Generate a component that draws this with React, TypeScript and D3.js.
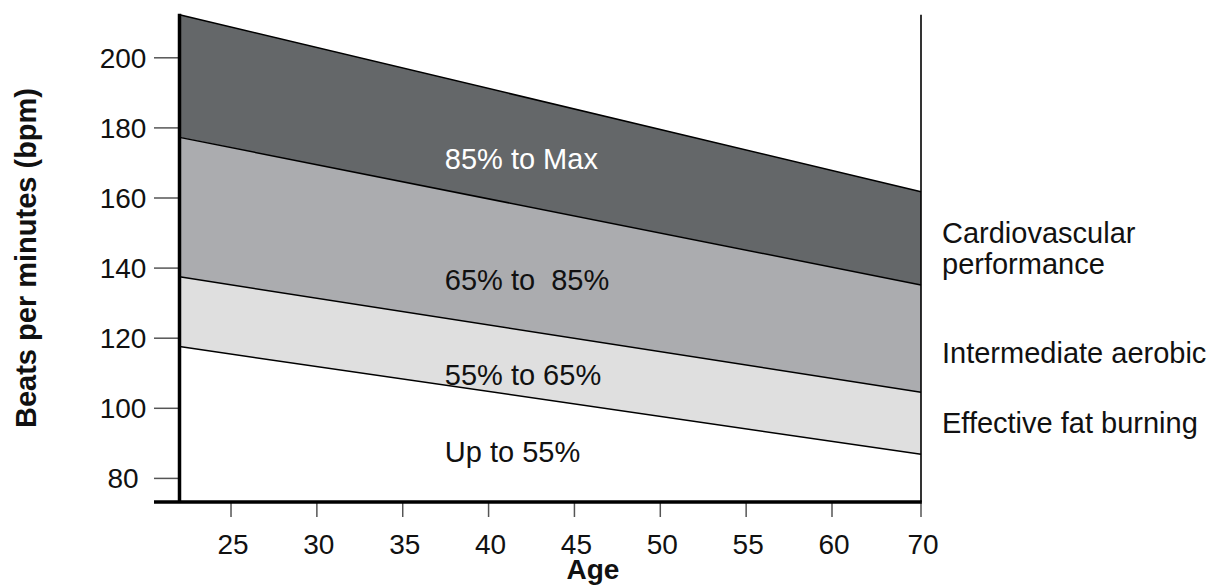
import React from "react";
import * as d3 from "d3";

// ---- data ----
const ageEnds = [22, 70];
const maxHR = [212.3, 161.8];
const hr85 = [177.3, 135.2];
const hr65 = [137.5, 104.6];
const hr55 = [117.6, 86.9];
const yTicks = [80, 100, 120, 140, 160, 180, 200];
const xTicks = [25, 30, 35, 40, 45, 50, 55, 60, 70];
const zoneLabels = ["85% to Max", "65% to  85%", "55% to 65%", "Up to 55%"];
const zoneNames = [["Cardiovascular", "performance"], ["Intermediate aerobic"], ["Effective fat burning"]];
const yTitle = "Beats per minutes (bpm)";
const xTitle = "Age";

const W = 1211;
const H = 587;
const FONT = "'Liberation Sans', Arial, Helvetica, sans-serif";

export default function App() {
  // the printed axis is not uniform: 25..60 evenly spaced, 70 at the right border
  const x = d3.scaleLinear().domain([22, 60, 70]).range([179.5, 832, 921]);
  const y = d3.scaleLinear().domain([80, 200]).range([478.4, 57.8]);
  const yBottom = 73.3;

  const rows = ageEnds.map((a, i) => ({ a, max: maxHR[i], p85: hr85[i], p65: hr65[i], p55: hr55[i] }));
  type R = (typeof rows)[number];

  const band = (lo: (r: R) => number, hi: (r: R) => number) =>
    d3.area<R>().x((r) => x(r.a)).y0((r) => y(lo(r))).y1((r) => y(hi(r)))(rows) || "";
  const line = (f: (r: R) => number) =>
    d3.line<R>().x((r) => x(r.a)).y((r) => y(f(r)))(rows) || "";

  const bands = [
    { d: band((r) => r.p85, (r) => r.max), fill: "#646769" },
    { d: band((r) => r.p65, (r) => r.p85), fill: "#abacaf" },
    { d: band((r) => r.p55, (r) => r.p65), fill: "#dfdfdf" },
  ];
  const lines = [line((r) => r.max), line((r) => r.p85), line((r) => r.p65), line((r) => r.p55)];

  const x0 = x(ageEnds[0]);
  const x1 = x(ageEnds[1]);
  const yb = y(yBottom);
  const yTop = y(maxHR[0]);

  const insideX = x(37.45);
  const insideY = [168.2, 133.8, 106.7, 84.7];
  const insideFill = ["#ffffff", "#111", "#111", "#111"];

  const rightX = 942;
  const rightY = [[243, 274], [363], [433]];

  return (
    <svg width={W} height={H} style={{ position: "absolute", left: 0, top: 0, background: "#fff" }} fontFamily={FONT}>
      <rect width={W} height={H} fill="#fff" />
      {bands.map((b, i) => (
        <path key={i} d={b.d} fill={b.fill} stroke="none" />
      ))}
      {lines.map((d, i) => (
        <path key={i} d={d} fill="none" stroke="#000" strokeWidth={1.5} />
      ))}
      {/* right border */}
      <line x1={x1} x2={x1} y1={yTop} y2={yb} stroke="#000" strokeWidth={1.6} />
      {/* y ticks */}
      {yTicks.map((t) => (
        <g key={t}>
          <line x1={154} x2={x0} y1={y(t)} y2={y(t)} stroke="#555" strokeWidth={1.5} />
          <text x={123} y={y(t) + 10} textAnchor="middle" fontSize={28} fill="#111">
            {t}
          </text>
        </g>
      ))}
      {/* x ticks */}
      {xTicks.map((t) => (
        <g key={t}>
          <line x1={x(t)} x2={x(t)} y1={yb} y2={517} stroke="#555" strokeWidth={1.5} />
          <text x={x(t) + 2} y={554} textAnchor="middle" fontSize={28} fill="#111">
            {t}
          </text>
        </g>
      ))}
      {/* axes */}
      <line x1={x0} x2={x0} y1={yTop - 1} y2={yb} stroke="#000" strokeWidth={3.5} />
      <line x1={154} x2={x1 + 0.8} y1={yb} y2={yb} stroke="#000" strokeWidth={3.5} />

      {/* zone labels */}
      {zoneLabels.map((s, i) => (
        <text key={s} x={insideX} y={y(insideY[i])} fontSize={29} fill={insideFill[i]} style={{ whiteSpace: "pre" }}>
          {s}
        </text>
      ))}
      {zoneNames.map((ls, i) =>
        ls.map((s, j) => (
          <text key={s} x={rightX} y={rightY[i][j]} fontSize={29} fill="#111">
            {s}
          </text>
        ))
      )}

      {/* axis titles */}
      <text x={593} y={579} textAnchor="middle" fontSize={28} fontWeight="bold" fill="#111">
        {xTitle}
      </text>
      <text
        transform={`translate(36,258) rotate(-90)`}
        textAnchor="middle"
        fontSize={29}
        fontWeight="bold"
        fill="#111"
      >
        {yTitle}
      </text>
    </svg>
  );
}
